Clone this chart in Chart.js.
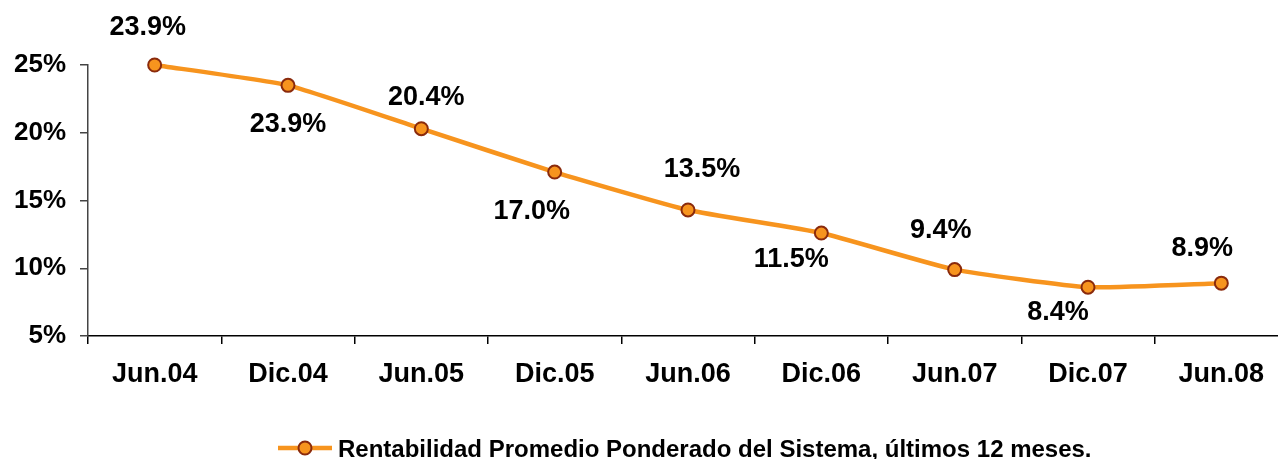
<!DOCTYPE html>
<html>
<head>
<meta charset="utf-8">
<script src="https://cdn.jsdelivr.net/npm/chart.js@4.4.1/dist/chart.umd.min.js"></script>
<style>
  html, body { margin: 0; padding: 0; background: #fff; overflow: hidden; }
  #wrap { width: 1290px; height: 459px; }
</style>
</head>
<body>
<div id="wrap"><canvas id="rentChart" width="1290" height="459"></canvas></div>
<script>
// datos
const periodos = ['Jun.04', 'Dic.04', 'Jun.05', 'Dic.05', 'Jun.06', 'Dic.06', 'Jun.07', 'Dic.07', 'Jun.08'];
const rentabilidad = [25.0, 23.5, 20.3, 17.1, 14.3, 12.6, 9.9, 8.6, 8.9];
const etiquetas = ['23.9%', '23.9%', '20.4%', '17.0%', '13.5%', '11.5%', '9.4%', '8.4%', '8.9%'];
const yTicks = [5, 10, 15, 20, 25];
const serieNombre = 'Rentabilidad Promedio Ponderado del Sistema, últimos 12 meses.';

// desplazamiento de cada etiqueta respecto a su punto (px)
const labelDx = [-7, 0, 5, -23, 14, -30, -14, -30, -19];
const labelDy = [-37, 39, -31, 40, -40, 27, -39, 25, -35];

const naranja = '#F7941E';
const borde = '#8A2A0C';
const FONT = '"Liberation Sans", Arial, sans-serif';

const dataLabels = {
    id: 'dataLabels',
    afterDatasetsDraw(chart) {
        const ctx = chart.ctx;
        const meta = chart.getDatasetMeta(0);
        ctx.save();
        ctx.font = 'bold 27px ' + FONT;
        ctx.fillStyle = '#000';
        ctx.textAlign = 'center';
        ctx.textBaseline = 'middle';
        meta.data.forEach(function (pt, i) {
            ctx.fillText(etiquetas[i], pt.x + labelDx[i], pt.y + labelDy[i]);
        });
        ctx.restore();
    }
};

const legendaAbajo = {
    id: 'legendaAbajo',
    afterDraw(chart) {
        const ctx = chart.ctx;
        const y = 448;
        ctx.save();
        ctx.strokeStyle = naranja;
        ctx.lineWidth = 4.5;
        ctx.beginPath();
        ctx.moveTo(278, y);
        ctx.lineTo(332, y);
        ctx.stroke();
        ctx.beginPath();
        ctx.arc(305, y, 6.5, 0, Math.PI * 2);
        ctx.fillStyle = naranja;
        ctx.fill();
        ctx.lineWidth = 2;
        ctx.strokeStyle = borde;
        ctx.stroke();
        ctx.font = 'bold 24px ' + FONT;
        ctx.fillStyle = '#000';
        ctx.textAlign = 'left';
        ctx.textBaseline = 'middle';
        ctx.fillText(serieNombre, 338, y + 2);
        ctx.restore();
    }
};

new Chart(document.getElementById('rentChart'), {
    type: 'line',
    data: {
        labels: periodos,
        datasets: [{
            label: serieNombre,
            data: rentabilidad,
            borderColor: naranja,
            borderWidth: 4.5,
            tension: 0.15,
            pointRadius: 6.5,
            pointHoverRadius: 6.5,
            pointBackgroundColor: naranja,
            pointBorderColor: borde,
            pointBorderWidth: 2,
            clip: false
        }]
    },
    options: {
        responsive: false,
        animation: false,
        layout: { autoPadding: false, padding: { top: 65, right: 2, bottom: 0, left: 0 } },
        plugins: {
            legend: { display: false },
            tooltip: { enabled: false }
        },
        scales: {
            x: {
                offset: true,
                grid: {
                    offset: true,
                    drawOnChartArea: false,
                    tickLength: 8,
                    color: '#000',
                    lineWidth: 1.5
                },
                border: { color: '#000', width: 1.5 },
                ticks: {
                    color: '#000',
                    font: { family: FONT, size: 27, weight: 'bold' },
                    padding: 14,
                    maxRotation: 0,
                    autoSkip: false
                },
                afterFit(scale) { scale.height = 123; }
            },
            y: {
                min: 5,
                max: 25,
                afterBuildTicks(scale) {
                    scale.ticks = yTicks.map(function (v) { return { value: v }; });
                },
                grid: {
                    drawOnChartArea: false,
                    tickLength: 8,
                    color: '#444',
                    lineWidth: 1.5
                },
                border: { color: '#444', width: 1.5 },
                ticks: {
                    color: '#000',
                    font: { family: FONT, size: 26, weight: 'bold' },
                    padding: 14,
                    callback: function (v) { return v + '%'; }
                },
                afterFit(scale) { scale.width = 88; }
            }
        }
    },
    plugins: [dataLabels, legendaAbajo]
});
</script>
</body>
</html>
